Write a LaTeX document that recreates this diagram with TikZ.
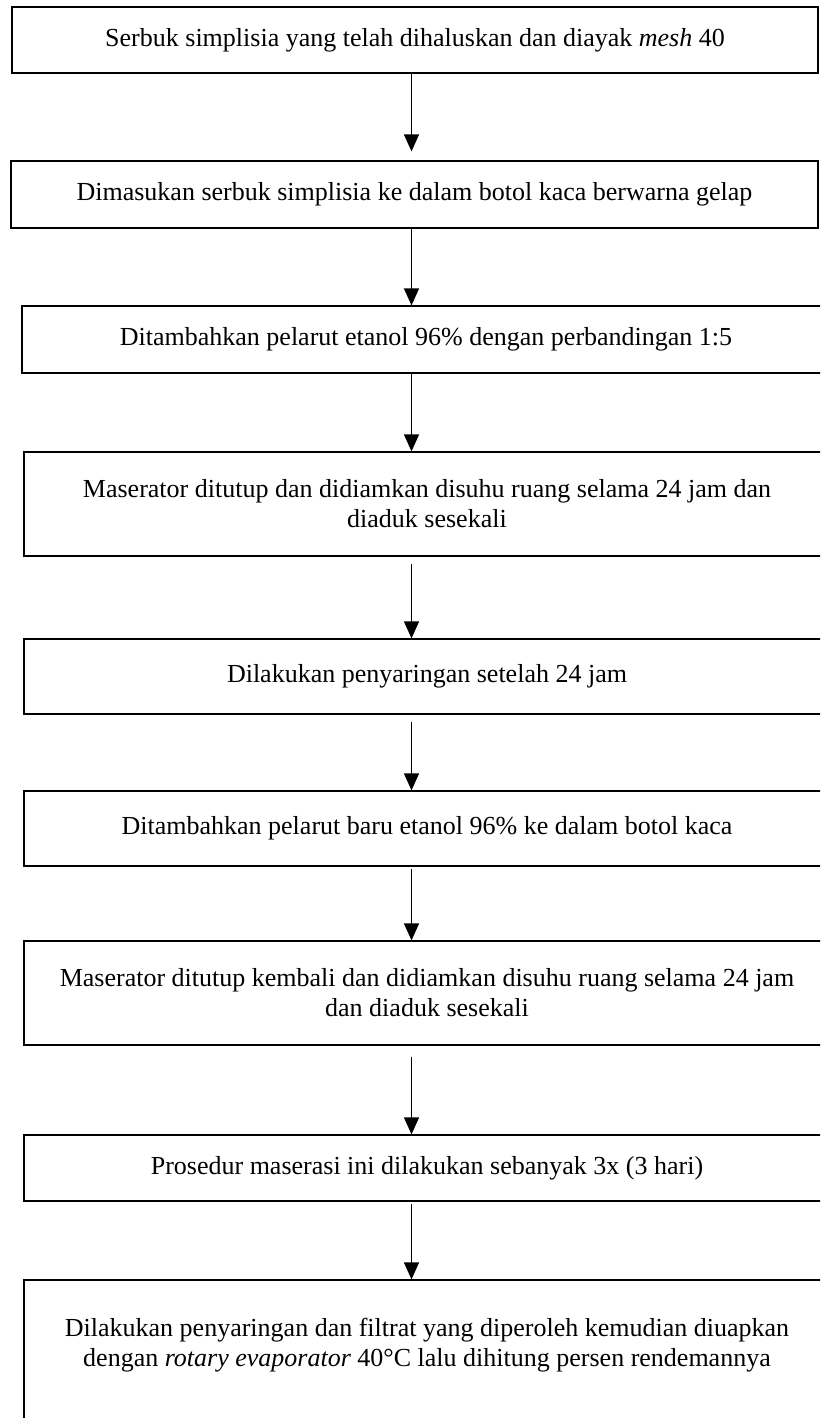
\documentclass[tikz,border=0pt]{standalone}
\usepackage{fontspec}
\setmainfont{Liberation Serif}
\usetikzlibrary{arrows.meta}
\begin{document}
\begin{tikzpicture}[x=1pt,y=-1pt,
  box/.style={draw, line width=1.2pt, rectangle, inner sep=0pt, align=center, font=\fontsize{26}{30}\selectfont},
  txt/.style={inner sep=0pt, align=center, font=\fontsize{26}{30}\selectfont},
  arr/.style={line width=1.3pt, -{Triangle[width=15pt,length=17pt]}}]
\useasboundingbox (0,0) rectangle (820,1418);
\clip (0,0) rectangle (820,1418);
\node[box, minimum width=806pt, minimum height=66pt] (b1) at (415,40) {Serbuk simplisia yang telah dihaluskan dan diayak \textit{mesh} 40};
\node[box, minimum width=807pt, minimum height=67pt] (b2) at (414.5,194.5) {Dimasukan serbuk simplisia ke dalam botol kaca berwarna gelap};
\node[box, minimum width=808pt, minimum height=67pt] (b3) at (426,339.5) {Ditambahkan pelarut etanol 96\% dengan perbandingan 1:5};
\node[box, minimum width=806pt, minimum height=104pt] (b4) at (427,504) {Maserator ditutup dan didiamkan disuhu ruang selama 24 jam dan\\ diaduk sesekali};
\node[box, minimum width=806pt, minimum height=75pt] (b5) at (427,676.5) {Dilakukan penyaringan setelah 24 jam};
\node[box, minimum width=806pt, minimum height=75pt] (b6) at (427,828.5) {Ditambahkan pelarut baru etanol 96\% ke dalam botol kaca};
\node[box, minimum width=806pt, minimum height=104pt] (b7) at (427,993) {Maserator ditutup kembali dan didiamkan disuhu ruang selama 24 jam\\ dan diaduk sesekali};
\node[box, minimum width=806pt, minimum height=66pt] (b8) at (427,1168) {Prosedur maserasi ini dilakukan sebanyak 3x (3 hari)};
\node[box, minimum width=806pt, minimum height=145pt] (b9) at (427,1352.5) {};
\node[txt] (b9t) at (427,1345) {Dilakukan penyaringan dan filtrat yang diperoleh kemudian diuapkan\\ dengan \textit{rotary evaporator} 40°C lalu dihitung persen rendemannya};
\coordinate (ax) at (411.5,0);
\draw[arr, shorten >=9pt] (b1.south -| ax) -- (b2.north -| ax);
\draw[arr] (b2.south -| ax) -- (b3.north -| ax);
\draw[arr] (b3.south -| ax) -- (b4.north -| ax);
\draw[arr, shorten <=7pt] (b4.south -| ax) -- (b5.north -| ax);
\draw[arr, shorten <=7pt] (b5.south -| ax) -- (b6.north -| ax);
\draw[arr, shorten <=2pt] (b6.south -| ax) -- (b7.north -| ax);
\draw[arr, shorten <=11pt] (b7.south -| ax) -- (b8.north -| ax);
\draw[arr, shorten <=2pt] (b8.south -| ax) -- (b9.north -| ax);
\end{tikzpicture}
\end{document}
